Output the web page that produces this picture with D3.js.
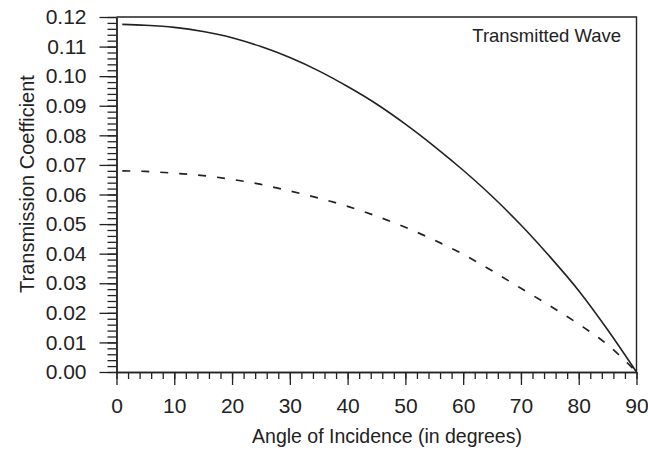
<!DOCTYPE html>
<html>
<head>
<meta charset="utf-8">
<script src="https://cdn.jsdelivr.net/npm/d3@7"></script>
<style>
    body { margin: 0; background: #fff; }
    svg { display: block; font-family: "Liberation Sans", Arial, sans-serif; }
</style>
</head>
<body>
<svg width="648" height="453"></svg>
<script>
// angle of incidence (degrees)
var angles = [1, 5, 10, 15, 20, 25, 30, 35, 40, 45, 50, 55, 60, 65, 70, 75, 80, 85, 90];
// transmission coefficient, solid curve
var solidValues = [0.1175, 0.1172, 0.1165, 0.1151, 0.1130, 0.1100, 0.1063, 0.1018, 0.0965, 0.0906,
    0.0838, 0.0763, 0.0682, 0.0594, 0.0497, 0.0390, 0.0275, 0.0143, 0.0];
// transmission coefficient, dashed curve
var dashedValues = [0.0680, 0.0678, 0.0672, 0.0664, 0.0651, 0.0634, 0.0612, 0.0588, 0.0560, 0.0527,
    0.0489, 0.0446, 0.0398, 0.0342, 0.0283, 0.0224, 0.0162, 0.0092, 0.0];
var xTicks = [0, 10, 20, 30, 40, 50, 60, 70, 80, 90];
var yTicks = [0, 0.01, 0.02, 0.03, 0.04, 0.05, 0.06, 0.07, 0.08, 0.09, 0.10, 0.11, 0.12];

(function () {
    var svg = d3.select("svg"),
        ink = "#222";

    var scaleX = d3.scaleLinear().domain([0, 90]).range([116.5, 636.5]),
        scaleY = d3.scaleLinear().domain([0, 0.12]).range([372, 17]);

    var xMinor = d3.range(0, 91, 2),
        yMinor = d3.range(0, 121, 2).map(function (d) { return d / 1000; });

    // minor ticks first
    svg.append("g")
        .attr("transform", "translate(0," + scaleY(0) + ")")
        .call(d3.axisBottom(scaleX).tickValues(xMinor).tickSize(7).tickSizeOuter(0).tickFormat(""))
        .call(styleAxis);
    svg.append("g")
        .attr("transform", "translate(" + scaleX(0) + ",0)")
        .call(d3.axisLeft(scaleY).tickValues(yMinor).tickSize(9).tickSizeOuter(0).tickFormat(""))
        .call(styleAxis);

    // major ticks + labels
    svg.append("g")
        .attr("transform", "translate(0," + scaleY(0) + ")")
        .call(d3.axisBottom(scaleX).tickValues(xTicks).tickSize(13).tickPadding(13).tickSizeOuter(0))
        .call(styleAxis);
    svg.append("g")
        .attr("transform", "translate(" + scaleX(0) + ",0)")
        .call(d3.axisLeft(scaleY).tickValues(yTicks).tickSize(17).tickPadding(13).tickSizeOuter(0)
            .tickFormat(d3.format(".2f")))
        .call(styleAxis);

    function styleAxis(g) {
        g.selectAll(".domain").attr("stroke", ink).attr("stroke-width", 1.4);
        g.selectAll(".tick line").attr("stroke", ink).attr("stroke-width", 1.3);
        g.selectAll(".tick text").attr("fill", ink).style("font-size", "21px")
            .style("font-family", "'Liberation Sans', Arial, sans-serif");
    }

    // frame top and right
    svg.append("path")
        .attr("d", "M" + scaleX(90) + "," + scaleY(0) + "V" + scaleY(0.12) + "H" + scaleX(0))
        .attr("fill", "none")
        .attr("stroke", ink)
        .attr("stroke-width", 1.4);

    var line = d3.line()
        .curve(d3.curveMonotoneX)
        .x(function (d) { return scaleX(d[0]); })
        .y(function (d) { return scaleY(d[1]); });

    svg.append("path")
        .datum(angles.map(function (a, i) { return [a, solidValues[i]]; }))
        .attr("d", line)
        .attr("fill", "none")
        .attr("stroke", ink)
        .attr("stroke-width", 1.6);

    svg.append("path")
        .datum(angles.map(function (a, i) { return [a, dashedValues[i]]; }))
        .attr("d", line)
        .attr("fill", "none")
        .attr("stroke", ink)
        .attr("stroke-width", 1.7)
        .attr("stroke-dasharray", "8,11");

    // titles
    svg.append("text")
        .attr("x", 387)
        .attr("y", 443)
        .attr("text-anchor", "middle")
        .attr("fill", ink)
        .style("font-size", "19.5px")
        .text("Angle of Incidence (in degrees)");

    svg.append("text")
        .attr("transform", "translate(34,184) rotate(-90)")
        .attr("text-anchor", "middle")
        .attr("fill", ink)
        .style("font-size", "20px")
        .text("Transmission Coefficient");

    svg.append("text")
        .attr("x", 621)
        .attr("y", 41.5)
        .attr("text-anchor", "end")
        .attr("fill", ink)
        .style("font-size", "18.5px")
        .text("Transmitted Wave");
})();
</script>
</body>
</html>
